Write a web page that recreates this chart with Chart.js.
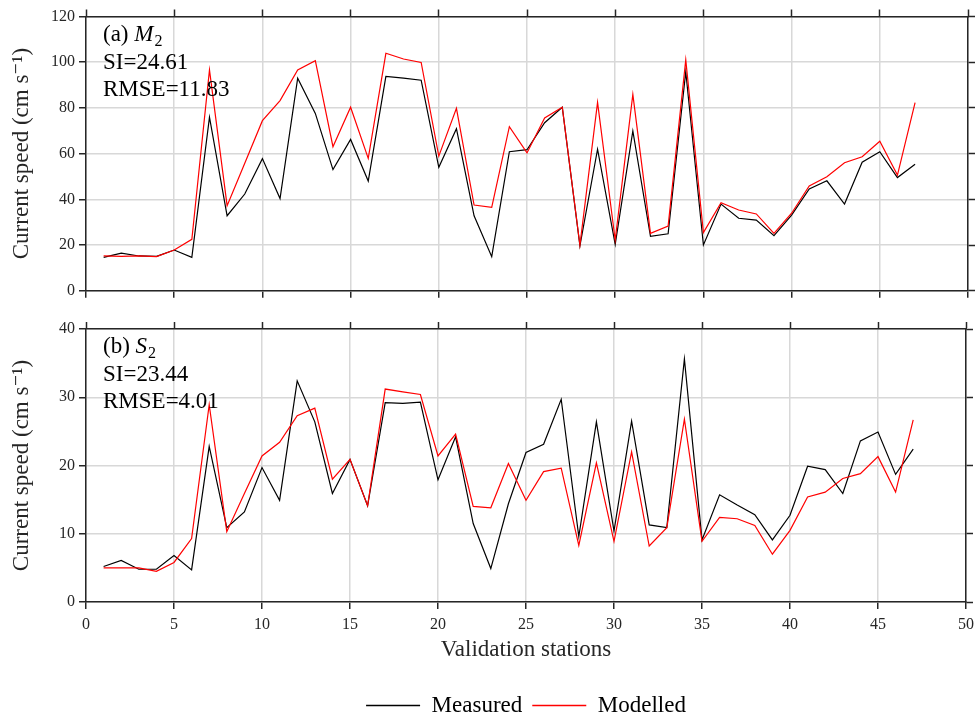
<!DOCTYPE html>
<html>
<head>
<meta charset="utf-8">
<script src="https://cdn.jsdelivr.net/npm/chart.js@4.4.1/dist/chart.umd.min.js"></script>
<style>
  html, body { margin: 0; padding: 0; background: #fff; }
  #wrap { position: relative; width: 980px; height: 721px; }
  canvas { position: absolute; left: 0; }
  #top { top: 0; }
  #bottom { top: 310px; }
</style>
</head>
<body>
<div id="wrap">
  <canvas id="top" width="980" height="310"></canvas>
  <canvas id="bottom" width="980" height="411"></canvas>
</div>
<script>
// Stations along the x axis
const stations = [1, 2, 3, 4, 5, 6, 7, 8, 9, 10, 11, 12, 13, 14, 15, 16, 17, 18, 19, 20,
    21, 22, 23, 24, 25, 26, 27, 28, 29, 30, 31, 32, 33, 34, 35, 36, 37, 38, 39, 40,
    41, 42, 43, 44, 45, 46, 47];

// M2 current speed (cm/s)
const m2Measured = [14.6, 16.4, 15.2, 15.0, 17.8, 14.6, 75.9, 32.8, 42.3, 57.8, 40.3, 93.0,
    77.6, 53.0, 66.2, 48.0, 93.8, 93.0, 92.1, 54.0, 70.9, 32.8, 14.9, 60.8, 61.7, 73.5,
    80.3, 19.6, 61.9, 20.3, 69.9, 23.8, 24.9, 95.8, 20.0, 37.9, 31.7, 30.9, 24.1, 33.1,
    44.5, 48.1, 37.9, 56.2, 60.8, 49.5, 55.3];
const m2Modelled = [15.2, 15.0, 15.2, 14.9, 17.8, 22.5, 96.6, 37.2, 55.8, 74.4, 83.2, 96.6,
    100.7, 63.0, 80.3, 57.9, 103.9, 101.4, 99.9, 58.9, 79.8, 37.5, 36.5, 71.8, 60.3, 75.6,
    80.3, 20.0, 82.4, 22.2, 85.9, 25.1, 28.3, 101.0, 25.4, 38.5, 35.3, 33.6, 25.1, 33.9,
    45.8, 49.9, 56.0, 58.6, 65.4, 50.6, 82.3];

// S2 current speed (cm/s)
const s2Measured = [5.2, 6.1, 4.8, 4.8, 6.8, 4.7, 22.8, 10.9, 13.2, 19.7, 14.9, 32.4,
    26.4, 15.9, 20.9, 14.1, 29.2, 29.1, 29.3, 17.9, 24.2, 11.5, 4.9, 14.4, 21.9, 23.1,
    29.7, 9.6, 26.4, 10.4, 26.5, 11.3, 10.9, 35.6, 9.1, 15.7, 14.2, 12.8, 9.1, 12.7,
    19.9, 19.4, 15.9, 23.6, 24.9, 18.7, 22.4];
const s2Modelled = [5.0, 5.0, 5.0, 4.5, 5.8, 9.3, 28.9, 10.3, 15.9, 21.4, 23.4, 27.3,
    28.4, 18.0, 20.9, 14.1, 31.2, 30.8, 30.4, 21.4, 24.6, 14.0, 13.8, 20.3, 14.9, 19.1,
    19.6, 8.3, 20.4, 8.9, 22.0, 8.2, 10.9, 26.8, 8.9, 12.4, 12.2, 11.2, 7.0, 10.5,
    15.4, 16.1, 18.1, 18.8, 21.3, 16.1, 26.7];

// Axis ranges / ticks
const xTicks = [0, 50, 5];
const m2Ticks = [0, 120, 20];
const s2Ticks = [0, 40, 10];

const seriesNames = ['Measured', 'Modelled'];
const seriesColors = ['#000000', '#ff0000'];
const panelTags = ['(a)', '(b)'];
const panelConst = ['M', 'S'];
const panelSI = ['SI=24.61', 'SI=23.44'];
const panelRMSE = ['RMSE=11.83', 'RMSE=4.01'];

const SERIF = "'Liberation Serif', 'DejaVu Serif', serif";
const AXIS_COLOR = '#262626';
const GRID_COLOR = '#d8d8d8';

function toPoints(values) {
    return stations.map((s, i) => ({ x: s, y: values[i] }));
}

// Panel text: (a) M2, SI, RMSE
const panelText = {
    id: 'panelText',
    afterDraw(chart, args, opts) {
        const ctx = chart.ctx;
        const area = chart.chartArea;
        const x = area.left + 17;
        let y = area.top + 24;
        ctx.save();
        ctx.fillStyle = '#000';
        ctx.textBaseline = 'alphabetic';
        ctx.textAlign = 'left';
        ctx.font = '23px ' + SERIF;
        const tag = opts.tag + ' ';
        ctx.fillText(tag, x, y);
        let cx = x + ctx.measureText(tag).width;
        ctx.font = 'italic 23px ' + SERIF;
        ctx.fillText(opts.name, cx, y);
        cx += ctx.measureText(opts.name).width + 1;
        ctx.font = '16px ' + SERIF;
        ctx.fillText('2', cx, y + 5);
        ctx.font = '23px ' + SERIF;
        y += 28;
        ctx.fillText(opts.si, x, y);
        y += 27;
        ctx.fillText(opts.rmse, x, y);
        ctx.restore();
    }
};

function makePanel(canvasId, idx, measured, modelled, yTicks, isBottom) {
    const ctx = document.getElementById(canvasId).getContext('2d');
    return new Chart(ctx, {
        type: 'line',
        data: {
            datasets: [{
                label: seriesNames[0],
                data: toPoints(measured),
                borderColor: seriesColors[0],
                backgroundColor: seriesColors[0],
                borderWidth: 1.2,
                pointRadius: 0,
                tension: 0,
                order: 1
            }, {
                label: seriesNames[1],
                data: toPoints(modelled),
                borderColor: seriesColors[1],
                backgroundColor: seriesColors[1],
                borderWidth: 1.2,
                pointRadius: 0,
                tension: 0,
                order: 0
            }]
        },
        options: {
            responsive: false,
            animation: false,
            devicePixelRatio: 1,
            layout: { padding: { left: 0, right: 0, top: 0, bottom: isBottom ? -6 : 0 }, autoPadding: false },
            plugins: {
                tooltip: { enabled: false },
                legend: {
                    display: isBottom,
                    position: 'bottom',
                    fullSize: false,
                    labels: {
                        usePointStyle: true,
                        pointStyleWidth: 54,
                        boxHeight: 23,
                        padding: 10,
                        color: '#000',
                        font: { family: SERIF, size: 23 },
                        generateLabels: (chart) => chart.data.datasets.map((ds, i) => ({
                            text: ds.label,
                            fillStyle: seriesColors[i],
                            strokeStyle: seriesColors[i],
                            lineWidth: 1.6,
                            pointStyle: 'line',
                            fontColor: '#000',
                            hidden: false,
                            datasetIndex: i
                        }))
                    }
                },
                panelText: {
                    tag: panelTags[idx],
                    name: panelConst[idx],
                    si: panelSI[idx],
                    rmse: panelRMSE[idx]
                }
            },
            scales: {
                x: {
                    type: 'linear',
                    position: 'bottom',
                    min: xTicks[0],
                    max: xTicks[1],
                    ticks: {
                        stepSize: xTicks[2],
                        display: isBottom,
                        color: AXIS_COLOR,
                        padding: 6,
                        maxRotation: 0,
                        font: { family: SERIF, size: 16 }
                    },
                    grid: { color: GRID_COLOR, lineWidth: 1.5, tickColor: AXIS_COLOR, tickLength: 7, tickWidth: 1.5 },
                    border: { color: AXIS_COLOR, width: 1.5 },
                    title: {
                        display: isBottom,
                        text: 'Validation stations',
                        color: AXIS_COLOR,
                        font: { family: SERIF, size: 23 },
                        padding: { top: 0, bottom: 20 }
                    },
                    afterFit: (scale) => { scale.height = isBottom ? 82 : 19.3; }
                },
                xTop: {
                    type: 'linear',
                    axis: 'x',
                    position: 'top',
                    min: xTicks[0],
                    max: xTicks[1],
                    ticks: { stepSize: xTicks[2], display: false },
                    grid: { drawOnChartArea: false, tickColor: AXIS_COLOR, tickLength: 7, tickWidth: 1.5 },
                    border: { color: AXIS_COLOR, width: 1.5 },
                    afterFit: (scale) => { scale.height = isBottom ? 19 : 16.5; }
                },
                y: {
                    type: 'linear',
                    position: 'left',
                    min: yTicks[0],
                    max: yTicks[1],
                    ticks: {
                        stepSize: yTicks[2],
                        color: AXIS_COLOR,
                        padding: 4,
                        font: { family: SERIF, size: 16 }
                    },
                    grid: { color: GRID_COLOR, lineWidth: 1.5, tickColor: AXIS_COLOR, tickLength: 7, tickWidth: 1.5 },
                    border: { color: AXIS_COLOR, width: 1.5 },
                    title: {
                        display: true,
                        text: 'Current speed (cm s\u207B\u00B9)',
                        color: AXIS_COLOR,
                        font: { family: SERIF, size: 23 },
                        padding: { top: 8, bottom: 0 }
                    },
                    afterFit: (scale) => { scale.width = 86; }
                },
                yRight: {
                    type: 'linear',
                    axis: 'y',
                    position: 'right',
                    min: yTicks[0],
                    max: yTicks[1],
                    ticks: { stepSize: yTicks[2], display: false },
                    grid: { drawOnChartArea: false, tickColor: AXIS_COLOR, tickLength: 7, tickWidth: 1.5 },
                    border: { color: AXIS_COLOR, width: 1.5 },
                    afterFit: (scale) => { scale.width = 12; }
                }
            }
        },
        plugins: [panelText]
    });
}

makePanel('top', 0, m2Measured, m2Modelled, m2Ticks, false);
makePanel('bottom', 1, s2Measured, s2Modelled, s2Ticks, true);
</script>
</body>
</html>
